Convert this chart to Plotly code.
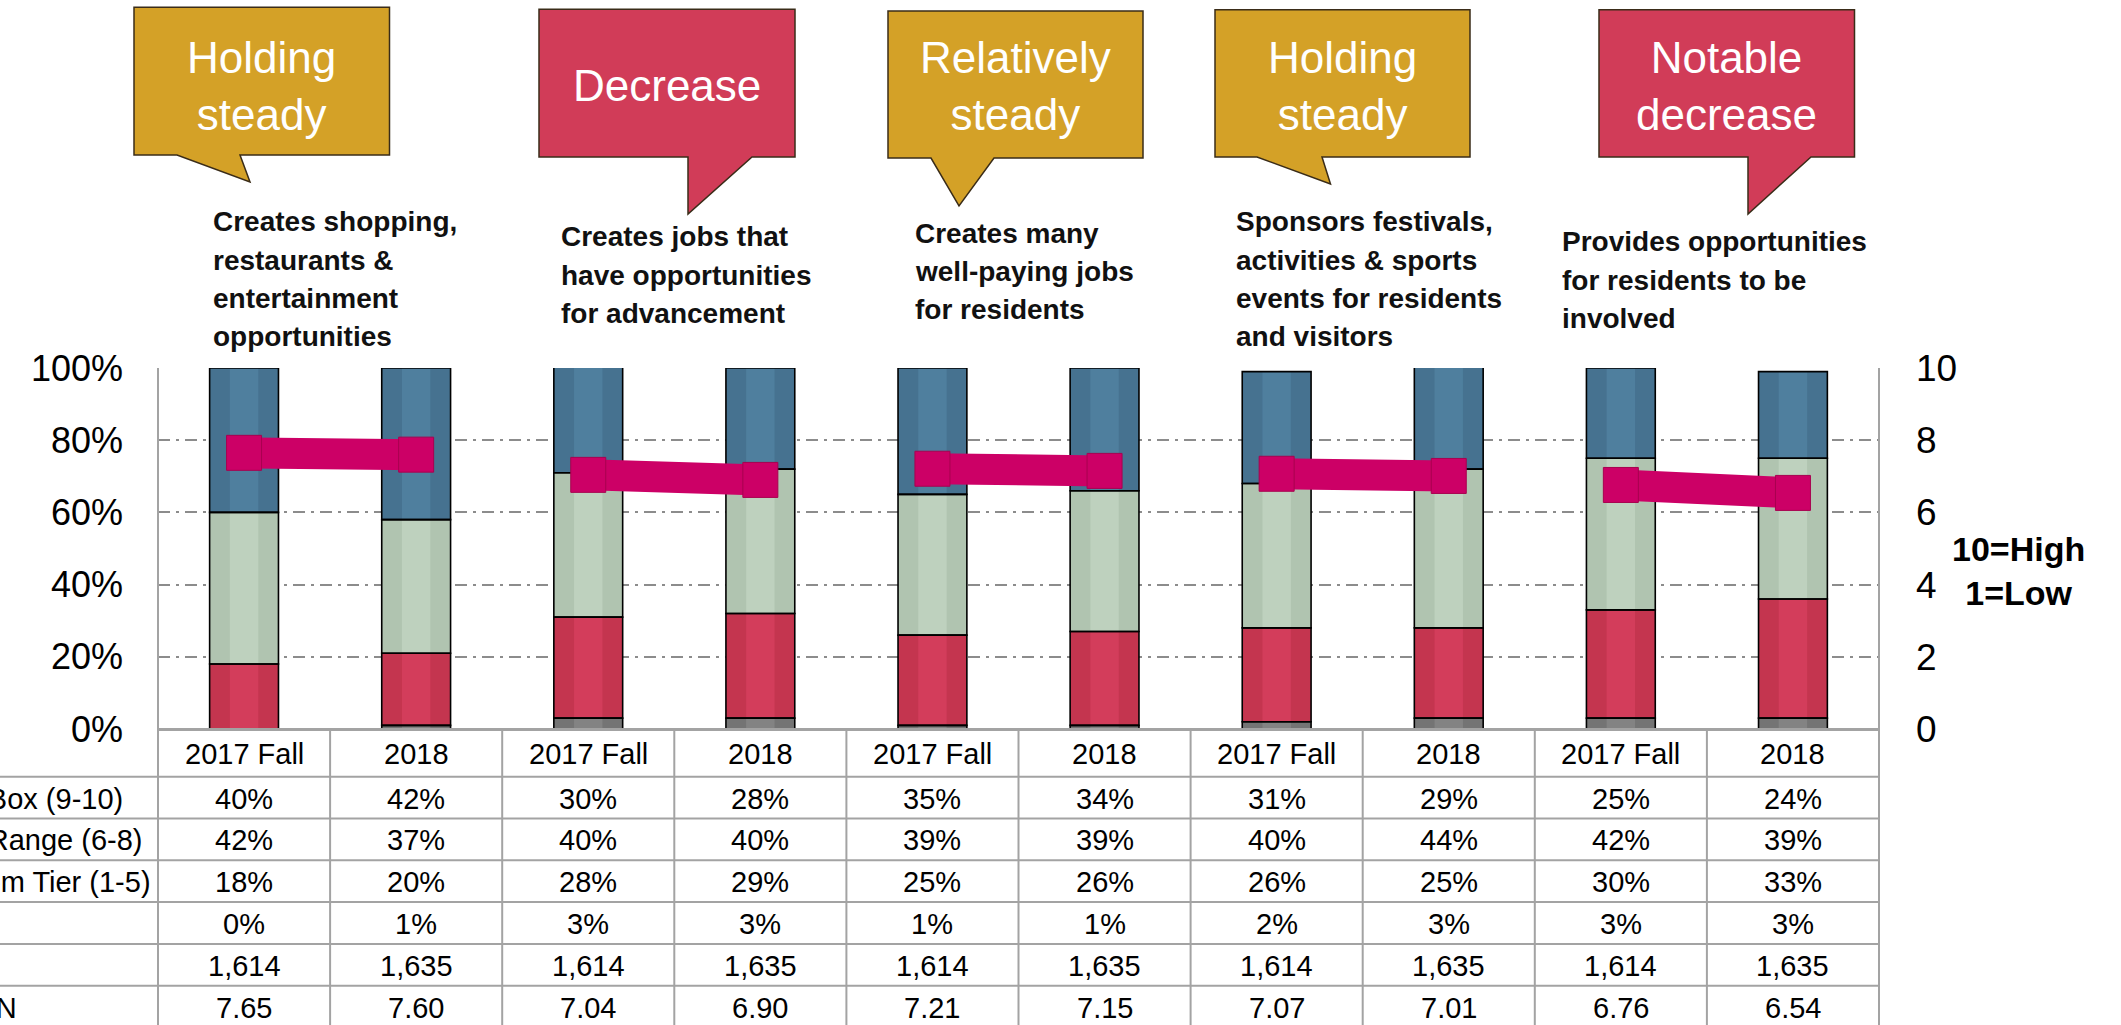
import plotly.graph_objects as go

# ---------------- data ----------------
periods = ["2017 Fall", "2018", "2017 Fall", "2018", "2017 Fall", "2018",
           "2017 Fall", "2018", "2017 Fall", "2018"]
top_box = [40, 42, 30, 28, 35, 34, 31, 29, 25, 24]
mid_range = [42, 37, 40, 40, 39, 39, 40, 44, 42, 39]
bottom_tier = [18, 20, 28, 29, 25, 26, 26, 25, 30, 33]
dont_know = [0, 1, 3, 3, 1, 1, 2, 3, 3, 3]
n_base = [1614, 1635, 1614, 1635, 1614, 1635, 1614, 1635, 1614, 1635]
mean_score = [7.65, 7.60, 7.04, 6.90, 7.21, 7.15, 7.07, 7.01, 6.76, 6.54]

row_labels = ["Top Box (9-10)", "Mid Range (6-8)", "Bottom Tier (1-5)", "DK", "N", "MEAN"]

attributes = [
    ["Creates shopping,", "restaurants &", "entertainment", "opportunities"],
    ["Creates jobs that", "have opportunities", "for advancement"],
    ["Creates many", "well-paying jobs", "for residents"],
    ["Sponsors festivals,", "activities & sports", "events for residents", "and visitors"],
    ["Provides opportunities", "for residents to be", "involved"],
]
trend_labels = ["Holding<br>steady", "Decrease", "Relatively<br>steady",
                "Holding<br>steady", "Notable<br>decrease"]
trend_kind = ["steady", "down", "steady", "steady", "down"]

left_ticks = [0, 20, 40, 60, 80, 100]
right_ticks = [0, 2, 4, 6, 8, 10]

# ---------------- layout helpers ----------------
W, H = 2121, 1025
ML, MR, MT, MB = 158, 242, 368, 296
PW = W - ML - MR
PH = H - MT - MB


def px(x):
    return (x - ML) / PW


def py(y):
    return (H - MB - y) / PH


FONT = "Arial, Liberation Sans, sans-serif"
C_MAG = "#CC0066"
C_GOLD = "#D4A127"
C_CALLRED = "#D13C58"
C_LINE = "#A3A3A3"

fig = go.Figure()

x_idx = list(range(len(periods)))
# (name, values, edge colour, centre colour) -- stacked bottom to top
series = [
    ("Don't know", dont_know, "#747474", "#838383"),
    ("Bottom Tier (1-5)", bottom_tier, "#C4354F", "#D33D5B"),
    ("Mid Range (6-8)", mid_range, "#B0C4B0", "#BED1BE"),
    ("Top Box (9-10)", top_box, "#467290", "#4F7F9E"),
]
BAR_W = 0.40
CENTER_W = 0.165

bases = []
running = [0] * len(periods)
for name, vals, edge, centre in series:
    bases.append(list(running))
    running = [a + b for a, b in zip(running, vals)]

# fills (bevelled look: darker full bar + lighter centre band)
for (name, vals, edge, centre), base in zip(series, bases):
    fig.add_trace(go.Bar(x=x_idx, y=vals, base=base, width=BAR_W, name=name,
                         marker=dict(color=edge, line=dict(width=0)),
                         showlegend=False, hoverinfo="skip"))
    fig.add_trace(go.Bar(x=x_idx, y=vals, base=base, width=CENTER_W, name=name,
                         marker=dict(color=centre, line=dict(width=0)),
                         showlegend=False, hoverinfo="skip"))
# outlines
for (name, vals, edge, centre), base in zip(series, bases):
    fig.add_trace(go.Bar(x=x_idx, y=vals, base=base, width=BAR_W, name=name,
                         marker=dict(color="rgba(0,0,0,0)",
                                     line=dict(color="#000000", width=1.6)),
                         showlegend=False, hoverinfo="skip"))

# mean lines (right axis), one segment per attribute
for g in range(len(attributes)):
    xs = [2 * g, 2 * g + 1]
    ys = [mean_score[2 * g], mean_score[2 * g + 1]]
    fig.add_trace(go.Scatter(
        x=xs, y=ys, yaxis="y2", mode="lines+markers",
        line=dict(color=C_MAG, width=31),
        marker=dict(symbol="square", size=35, color=C_MAG,
                    line=dict(color="#A8004F", width=1)),
        showlegend=False, hoverinfo="skip",
    ))

shapes = []
annotations = []

# speech bubbles (pixel geometry)
bubbles = [
    (134, 389.5, 7.3, 155, 177, 240, 250, 182),
    (539, 795, 9.3, 157, 688, 752, 688, 214),
    (888, 1143, 11, 158, 931, 994, 959, 206),
    (1215, 1470, 9.7, 157, 1257, 1322, 1330.5, 184),
    (1599, 1854.5, 9.7, 157, 1748, 1811, 1748, 214),
]
for (x0, x1, y0, y1, bl, br, tx, ty), lab, kind in zip(bubbles, trend_labels, trend_kind):
    path = (f"M {px(x0)},{py(y0)} L {px(x1)},{py(y0)} L {px(x1)},{py(y1)} "
            f"L {px(br)},{py(y1)} L {px(tx)},{py(ty)} L {px(bl)},{py(y1)} "
            f"L {px(x0)},{py(y1)} Z")
    fill = C_GOLD if kind == "steady" else C_CALLRED
    shapes.append(dict(type="path", path=path, xref="paper", yref="paper",
                       fillcolor=fill, line=dict(color="#3A2C18", width=1.5),
                       layer="above"))
    annotations.append(dict(x=px((x0 + x1) / 2), y=py(86), xref="paper", yref="paper",
                            text=lab, showarrow=False, xanchor="center", yanchor="middle",
                            font=dict(family=FONT, size=44, color="white")))

# attribute descriptions
desc_pos = [(211, 221.7), (558.5, 236.7), (912.8, 233), (1234.4, 221.7), (1560.3, 241.7)]
for lines, (dx, dy) in zip(attributes, desc_pos):
    for i, ln in enumerate(lines):
        annotations.append(dict(x=px(dx), y=py(dy + i * 38.3), xref="paper", yref="paper",
                                text=ln, showarrow=False, xanchor="left", yanchor="middle",
                                font=dict(family=FONT, size=28, color="#111111",
                                          weight="bold")))

# scale note
annotations.append(dict(x=px(2018), y=py(571), xref="paper", yref="paper",
                        text="10=High<br>1=Low", showarrow=False, xanchor="center",
                        yanchor="middle", align="center",
                        font=dict(family=FONT, size=34, color="#000000", weight="bold")))

# ---------------- table ----------------
n_cols = len(periods)
table_bottom = H + 5
header_bottom = 776.7
row_h = 41.8

for k in range(n_cols + 1):
    top = 1 if k in (0, n_cols) else 0
    shapes.append(dict(type="line", xref="paper", yref="paper",
                       x0=k / n_cols, x1=k / n_cols, y0=top, y1=py(table_bottom),
                       line=dict(color=C_LINE, width=2), layer="above"))
for r in range(len(row_labels)):
    yy = header_bottom + r * row_h
    shapes.append(dict(type="line", xref="paper", yref="paper",
                       x0=px(0), x1=1, y0=py(yy), y1=py(yy),
                       line=dict(color=C_LINE, width=2), layer="above"))
shapes.append(dict(type="line", xref="paper", yref="paper", x0=0, x1=1,
                   y0=py(729.5), y1=py(729.5),
                   line=dict(color=C_LINE, width=3), layer="above"))

for i, p in enumerate(periods):
    annotations.append(dict(x=i, y=py(753.5), xref="x", yref="paper", text=p,
                            showarrow=False, xanchor="center", yanchor="middle",
                            font=dict(family=FONT, size=29, color="#000000")))

table_rows = [
    [f"{v}%" for v in top_box],
    [f"{v}%" for v in mid_range],
    [f"{v}%" for v in bottom_tier],
    [f"{v}%" for v in dont_know],
    [f"{v:,}" for v in n_base],
    [f"{v:.2f}" for v in mean_score],
]
for r, (lab, vals) in enumerate(zip(row_labels, table_rows)):
    yc = header_bottom + (r + 0.5) * row_h + 1
    annotations.append(dict(x=px(-69), y=py(yc), xref="paper", yref="paper", text=lab,
                            showarrow=False, xanchor="left", yanchor="middle",
                            font=dict(family=FONT, size=29, color="#000000")))
    for i, t in enumerate(vals):
        annotations.append(dict(x=i, y=py(yc), xref="x", yref="paper", text=t,
                                showarrow=False, xanchor="center", yanchor="middle",
                                font=dict(family=FONT, size=29, color="#000000")))

fig.update_layout(
    width=W, height=H, autosize=False,
    margin=dict(l=ML, r=MR, t=MT, b=MB, pad=0),
    paper_bgcolor="white", plot_bgcolor="white",
    barmode="overlay",
    showlegend=False,
    xaxis=dict(range=[-0.5, n_cols - 0.5], showticklabels=False, showgrid=False,
               zeroline=False, showline=False, ticks=""),
    yaxis=dict(range=[0, 100], tickvals=left_ticks, ticktext=[f"{v}%" for v in left_ticks],
               tickfont=dict(family=FONT, size=36, color="#000000"),
               showgrid=True, gridcolor="#8C8C8C", gridwidth=2,
               griddash="12px,6px,3px,6px", zeroline=False, showline=False,
               ticks="", ticklabelstandoff=34),
    yaxis2=dict(range=[0, 10], overlaying="y", side="right", tickvals=right_ticks,
                tickfont=dict(family=FONT, size=37, color="#000000"),
                showgrid=False, zeroline=False, showline=False, ticks="",
                ticklabelstandoff=36),
    shapes=shapes,
    annotations=annotations,
)

fig.write_html("out.html", config={"displayModeBar": False},
               post_script="document.body.style.margin='0px';")
